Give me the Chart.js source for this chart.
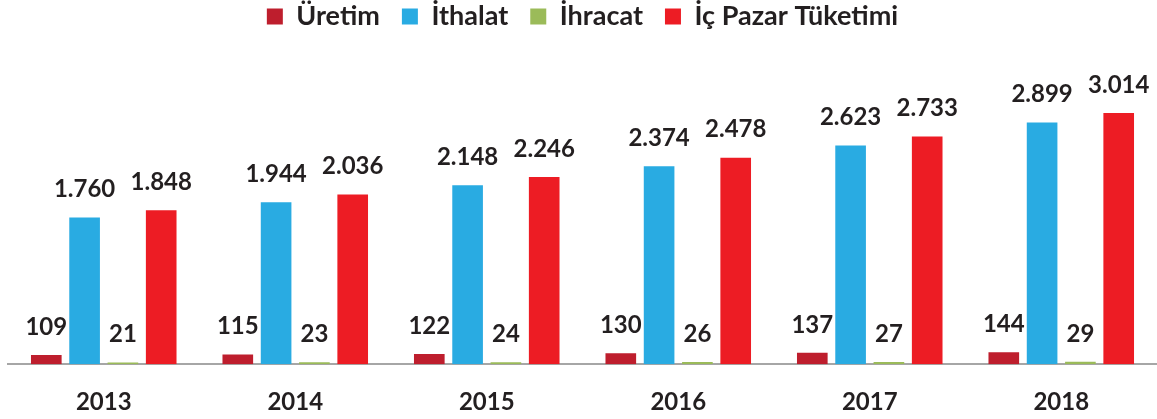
<!DOCTYPE html>
<html>
<head>
<meta charset="utf-8">
<script src="https://cdn.jsdelivr.net/npm/chart.js@4.4.0/dist/chart.umd.min.js"></script>
<style>
  html, body { margin: 0; padding: 0; background: #fff; }
  #wrap { width: 1157px; height: 419px; position: relative; }
</style>
</head>
<body>
<div id="wrap"><canvas id="myChart"></canvas></div>
<script>
// Chart data
const years = ['2013', '2014', '2015', '2016', '2017', '2018'];
const uretim = [109, 115, 122, 130, 137, 144];
const ithalat = [1760, 1944, 2148, 2374, 2623, 2899];
const ihracat = [21, 23, 24, 26, 27, 29];
const icPazar = [1848, 2036, 2246, 2478, 2733, 3014];

const textColor = '#231f20';
const fontFamily = 'Lato, "Open Sans", sans-serif';

// Turkish style thousands separator (1.760)
function fmt(v) {
  return String(v).replace(/\B(?=(\d{3})+(?!\d))/g, '.');
}

// draw value labels above each bar
const valueLabels = {
  id: 'valueLabels',
  afterDatasetsDraw(chart) {
    const ctx = chart.ctx;
    ctx.save();
    ctx.font = 'bold 24px ' + fontFamily;
    ctx.fillStyle = textColor;
    ctx.textAlign = 'center';
    ctx.textBaseline = 'middle';
    chart.data.datasets.forEach((ds, i) => {
      chart.getDatasetMeta(i).data.forEach((bar, j) => {
        const y = Math.max(bar.y - 28, chart.chartArea.top + 12);
        ctx.fillText(fmt(ds.data[j]), bar.x, y);
      });
    });
    ctx.restore();
  }
};

const ctx = document.getElementById('myChart').getContext('2d');
const myChart = new Chart(ctx, {
  type: 'bar',
  data: {
    labels: years,
    datasets: [
      { label: 'Üretim', data: uretim, backgroundColor: '#be1e2d' },
      { label: 'İthalat', data: ithalat, backgroundColor: '#29abe2' },
      { label: 'İhracat', data: ihracat, backgroundColor: '#9bbb59' },
      { label: 'İç Pazar Tüketimi', data: icPazar, backgroundColor: '#ed1c24' }
    ]
  },
  options: {
    responsive: true,
    maintainAspectRatio: false,
    animation: false,
    layout: { padding: { left: 8, right: 0, top: -19, bottom: -22 } },
    datasets: {
      bar: { categoryPercentage: 0.8, barPercentage: 0.8, borderWidth: 0 }
    },
    scales: {
      x: {
        grid: { display: false, drawTicks: false },
        border: { display: true, color: '#a6a6a6', width: 2 },
        ticks: {
          color: textColor,
          padding: 24,
          font: { family: fontFamily, size: 24, weight: 'bold' }
        }
      },
      y: {
        display: false,
        min: 0,
        max: 3890
      }
    },
    plugins: {
      legend: {
        display: true,
        position: 'top',
        labels: {
          color: textColor,
          boxWidth: 16,
          boxHeight: 16,
          padding: 22,
          font: { family: fontFamily, size: 27, weight: 'bold' }
        }
      },
      tooltip: { enabled: false }
    }
  },
  plugins: [valueLabels]
});
</script>
</body>
</html>
